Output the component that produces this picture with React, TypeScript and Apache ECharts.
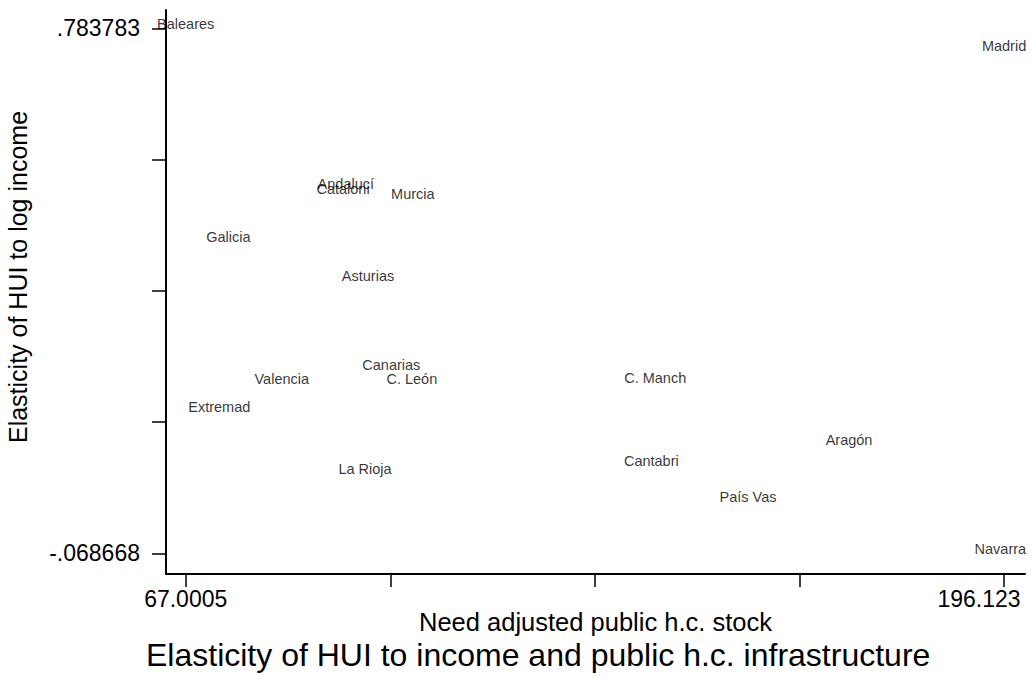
import React, { useEffect, useRef } from "react";
import * as echarts from "echarts";

const regions = [
  "Baleares", "Madrid", "Andalucí", "Cataloni", "Murcia", "Galicia", "Asturias",
  "Canarias", "Valencia", "C. León", "C. Manch", "Extremad", "Aragón", "Cantabri",
  "La Rioja", "País Vas", "Navarra",
];
const publicStock = [
  67.0005, 196.123, 92.26, 91.82, 102.84, 73.72, 95.77,
  99.44, 82.16, 102.68, 141.08, 72.29, 171.66, 140.47,
  95.29, 155.73, 195.54,
];
const elasticity = [
  0.783783, 0.7486, 0.5245, 0.5156, 0.5083, 0.4376, 0.3751,
  0.2298, 0.2071, 0.2079, 0.2095, 0.1616, 0.1088, 0.0755,
  0.0609, 0.0163, -0.068668,
];
const xTickValues = [67.0005, 99.2811, 131.5617, 163.8424, 196.123];
const xLabelValues = [67.0005, 196.123];
const xLabelTexts = ["67.0005", "196.123"];
const yTickValues = [-0.068668, 0.144445, 0.357558, 0.57067, 0.783783];
const yLabelValues = [-0.068668, 0.783783];
const yLabelTexts = ["-.068668", ".783783"];

const FONT = "'Liberation Sans', Arial, Helvetica, sans-serif";

function findLabel(values: number[], texts: string[], v: number) {
  const i = values.findIndex((t) => Math.abs(t - v) < 1e-6);
  return i >= 0 ? texts[i] : "";
}

export default function App() {
  const ref = useRef<HTMLDivElement>(null);
  useEffect(() => {
    if (!ref.current) return;
    const chart = echarts.init(ref.current, undefined, { renderer: "svg" });
    const data = publicStock.map((x, i) => [x, elasticity[i], regions[i]]);
    chart.setOption({
      animation: false,
      backgroundColor: "#fff",
      title: {
        text: "Elasticity of HUI to income and public h.c. infrastructure",
        left: 146,
        top: 639,
        padding: 0,
        textStyle: { fontFamily: FONT, fontSize: 32, fontWeight: "normal", color: "#000" },
      },
      grid: { left: 166, right: 9, top: 10, bottom: 103, outerBoundsMode: "none", containLabel: false },
      xAxis: {
        type: "value",
        min: 63.89,
        max: 199.43,
        name: "Need adjusted public h.c. stock",
        nameLocation: "middle",
        nameGap: 35,
        nameMoveOverlap: false,
        nameTextStyle: { fontFamily: FONT, fontSize: 25.5, color: "#000" },
        axisLine: { show: true, onZero: false, lineStyle: { color: "#000", width: 2 } },
        axisTick: {
          show: true,
          length: 13,
          customValues: xTickValues,
          lineStyle: { color: "#000", width: 1.5 },
        },
        axisLabel: {
          show: true,
          customValues: xLabelValues,
          margin: 13,
          fontFamily: FONT,
          fontSize: 23,
          color: "#000",
          formatter: (v: number) => {
            const t = findLabel(xLabelValues, xLabelTexts, v);
            return Math.abs(v - xLabelValues[1]) < 1e-6 ? "{r|" + t + "}" : t;
          },
          rich: {
            r: { fontFamily: FONT, fontSize: 23, color: "#000", padding: [0, 50, 0, 0] },
          },
        },
        splitLine: { show: false },
      },
      yAxis: {
        type: "value",
        min: -0.1023,
        max: 0.8135,
        name: "Elasticity of HUI to log income",
        nameLocation: "middle",
        nameGap: 136,
        nameMoveOverlap: false,
        nameTextStyle: { fontFamily: FONT, fontSize: 25, color: "#000", padding: [0, 0, 0, 30] },
        axisLine: { show: true, onZero: false, lineStyle: { color: "#000", width: 2 } },
        axisTick: {
          show: true,
          length: 14,
          customValues: yTickValues,
          lineStyle: { color: "#000", width: 1.5 },
        },
        axisLabel: {
          show: true,
          customValues: yLabelValues,
          margin: 26,
          fontFamily: FONT,
          fontSize: 23,
          color: "#000",
          formatter: (v: number) => findLabel(yLabelValues, yLabelTexts, v),
        },
        splitLine: { show: false },
      },
      series: [
        {
          type: "scatter",
          data,
          symbolSize: 1,
          itemStyle: { color: "rgba(0,0,0,0)" },
          label: {
            show: true,
            position: "inside",
            offset: [0, -4],
            formatter: (p: any) => p.data[2],
            fontFamily: FONT,
            fontSize: 14.5,
            color: "#000",
          },
        },
      ],
    });
    return () => chart.dispose();
  }, []);
  return <div ref={ref} style={{ width: 1034, height: 677, position: "absolute", left: 0, top: 0 }} />;
}
